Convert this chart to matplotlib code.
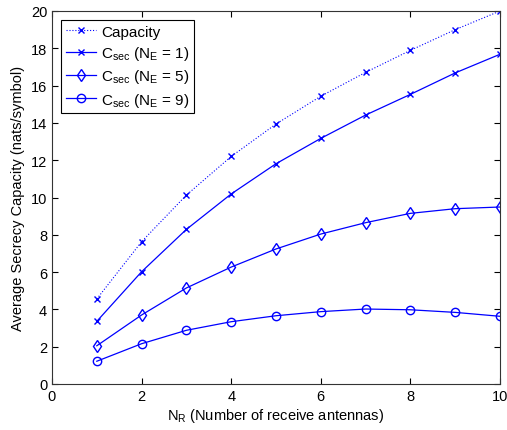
import matplotlib
matplotlib.use('Agg')
import matplotlib.pyplot as plt

plt.rcParams.update({
    'font.family': ['Liberation Sans', 'DejaVu Sans'],
    'mathtext.fontset': 'custom',
    'mathtext.rm': 'Liberation Sans',
    'mathtext.it': 'Liberation Sans',
    'font.size': 10.5,
})

n_r = [1, 2, 3, 4, 5, 6, 7, 8, 9, 10]
capacity = [4.56, 7.63, 10.13, 12.2, 13.94, 15.43, 16.71, 17.89, 19.0, 20.0]
csec_ne1 = [3.36, 6.02, 8.29, 10.19, 11.81, 13.17, 14.42, 15.53, 16.68, 17.68]
csec_ne5 = [2.05, 3.70, 5.15, 6.27, 7.24, 8.04, 8.65, 9.15, 9.40, 9.49]
csec_ne9 = [1.22, 2.16, 2.88, 3.34, 3.66, 3.88, 4.02, 3.98, 3.84, 3.63]

blue = '#0000FF'

fig = plt.figure(figsize=(5.07, 4.31), dpi=100)
ax = fig.add_axes([52 / 507, 1 - 385 / 431, 448 / 507, 373 / 431])

ax.plot(n_r, capacity, ls=':', marker='x', color=blue, ms=5, lw=0.8, label='Capacity')
ax.plot(n_r, csec_ne1, ls='-', marker='x', color=blue, ms=5, lw=0.9,
        label=r'$\mathregular{C_{sec}}$ ($\mathregular{N_E}$ = 1)')
ax.plot(n_r, csec_ne5, ls='-', marker='d', color=blue, ms=6, lw=0.9, mfc='none',
        label=r'$\mathregular{C_{sec}}$ ($\mathregular{N_E}$ = 5)')
ax.plot(n_r, csec_ne9, ls='-', marker='o', color=blue, ms=6, lw=0.9, mfc='none',
        label=r'$\mathregular{C_{sec}}$ ($\mathregular{N_E}$ = 9)')

ax.set_xlim(0, 10)
ax.set_ylim(0, 20)
ax.set_xticks(range(0, 11, 2))
ax.set_yticks(range(0, 21, 2))
for s in ax.spines.values():
    s.set_color('#333333')
ax.tick_params(direction='in', top=True, right=True, length=4, labelsize=10.5)
ax.set_xlabel(r'$\mathregular{N_R}$ (Number of receive antennas)', labelpad=2)
ax.set_ylabel('Average Secrecy Capacity (nats/symbol)', labelpad=4)

leg = ax.legend(loc='upper left', fancybox=False, framealpha=1, edgecolor='black',
                handlelength=2.0, borderpad=0.3, labelspacing=0.35, handletextpad=0.3,
                borderaxespad=0.6, fontsize=11)
leg.get_frame().set_linewidth(0.8)

fig.savefig('out.png', dpi=100)
